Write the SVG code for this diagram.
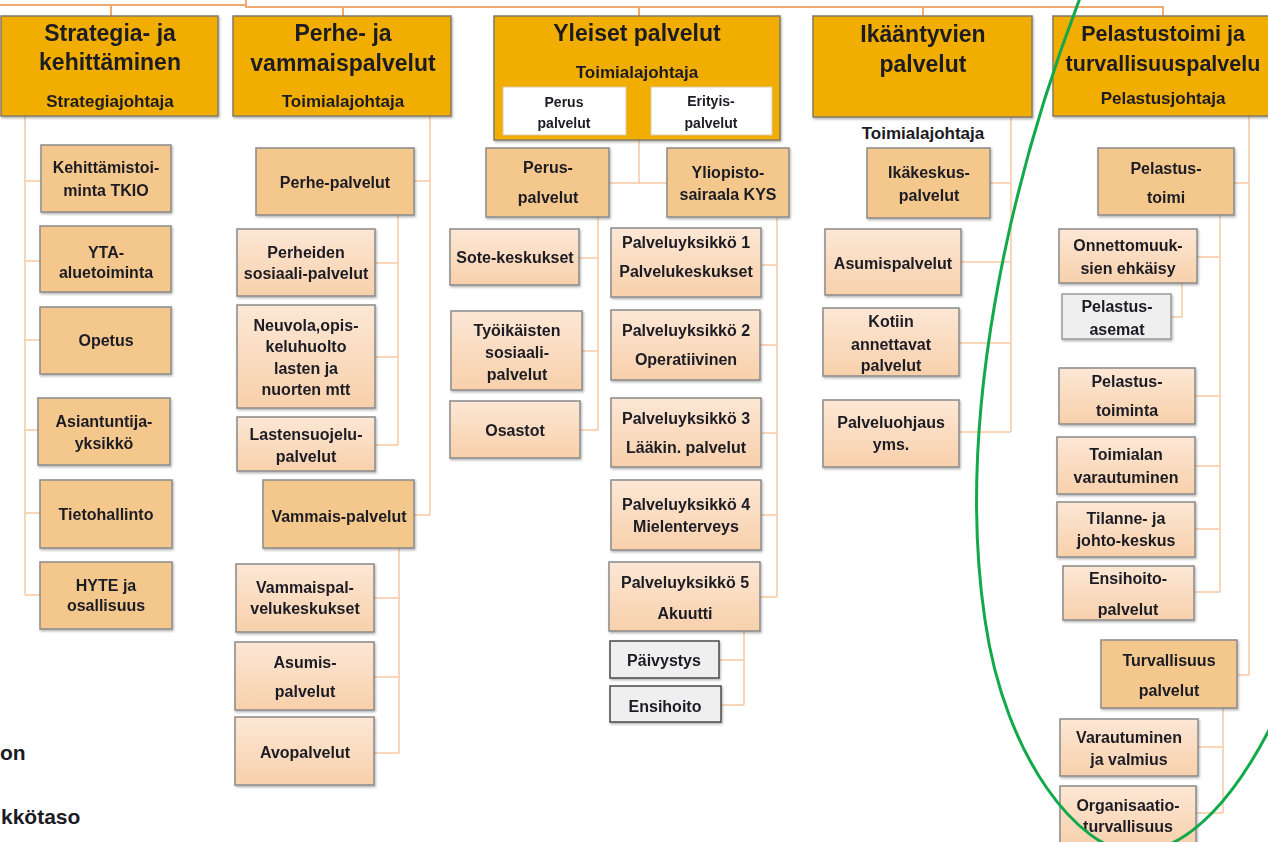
<svg xmlns="http://www.w3.org/2000/svg" width="1268" height="842" viewBox="0 0 1268 842">
<style>
text{font-family:"Liberation Sans",Arial,sans-serif;font-weight:bold;fill:#1b1b24;text-anchor:middle}
.h{font-size:23px}.hs{font-size:21.5px}.s{font-size:17px}.n{font-size:16px}.w{font-size:14px}
.hdr{fill:#F2AE00;stroke:#857a66;stroke-width:1.5}
.dk{fill:#F4C88D;stroke:#8a8a8a;stroke-width:1.5}
.lt{fill:url(#lg);stroke:#8a8a8a;stroke-width:1.5}
.gr{fill:#EFEFEF;stroke:#4a4a4a;stroke-width:1.5}
.wh{fill:#fff;stroke:#d8c9a8;stroke-width:1}
.c path{fill:none;stroke:#F7C9A2;stroke-width:1.5}
.c .top{stroke:#F0AA70;stroke-width:2}
.free{text-anchor:start;font-size:21px}
</style>
<defs>
<linearGradient id="lg" x1="0" y1="0" x2="0" y2="1"><stop offset="0" stop-color="#FCE7D5"/><stop offset="1" stop-color="#F8D0AB"/></linearGradient>
<filter id="sh" x="-5%" y="-5%" width="115%" height="120%"><feDropShadow dx="1" dy="1.5" stdDeviation="1" flood-color="#000" flood-opacity="0.3"/></filter>
</defs>
<rect width="1268" height="842" fill="#fff"/>
<g class="c" id="connectors">
<path class="top" d="M0,5 H245 M246,0 V7 H1163 V16 M111,5 V16 M343,7 V16 M639,7 V16 M923,7 V16"/>
<path d="M25,116 V595 M25,181 H41 M25,261 H40 M25,340 H40 M25,430 H38 M25,513 H40 M25,595 H40"/>
<path d="M430,116 V515 M414,181 H430 M414,515 H430 M398,215 V445 M375,263 H398 M375,357 H398 M375,445 H398 M399,548 V753 M374,598 H399 M374,677 H399 M374,753 H399"/>
<path d="M639,140 V183 M609,183 H667 M598,217 V430 M579,258 H598 M582,351 H598 M580,430 H598 M777,217 V597 M761,265 H777 M760,345 H777 M761,433 H777 M761,515 H777 M760,597 H777 M744,631 V705 M719,660 H744 M721,705 H744"/>
<path d="M1011,117 V432 M990,183 H1011 M961,262 H1011 M959,343 H1011 M959,432 H1011"/>
<path d="M1249,116 V675 M1234,183 H1249 M1237,675 H1249 M1220,215 V592 M1197,257 H1220 M1195,396 H1220 M1195,466 H1220 M1195,529 H1220 M1194,592 H1220 M1182,283 V317 H1171 M1223,708 V813 M1198,747 H1223 M1196,813 H1223"/>
</g>
<g filter="url(#sh)">
<g id="strategia"><rect class="hdr" x="1" y="16" width="217" height="100"/><text class="h" x="110" y="41">Strategia- ja</text><text class="h" x="110" y="70">kehittäminen</text><text class="s" x="110" y="107">Strategiajohtaja</text></g>
<g id="perhe"><rect class="hdr" x="233" y="16" width="218" height="100"/><text class="h" x="343" y="41">Perhe- ja</text><text class="h" x="343" y="71">vammaispalvelut</text><text class="s" x="343" y="107">Toimialajohtaja</text></g>
<g id="yleiset"><rect class="hdr" x="494" y="16" width="286" height="124"/><text class="h" x="637" y="41">Yleiset palvelut</text><text class="s" x="637" y="78">Toimialajohtaja</text></g>
<g id="perus-w"><rect class="wh" x="503" y="87" width="123" height="48"/><text class="w" x="564" y="107">Perus</text><text class="w" x="564" y="128">palvelut</text></g>
<g id="erityis-w"><rect class="wh" x="651" y="87" width="121" height="48"/><text class="w" x="711" y="106">Erityis-</text><text class="w" x="711" y="128">palvelut</text></g>
<g id="ikaantyvien"><rect class="hdr" x="813" y="16" width="219" height="101"/><text class="h" x="923" y="42">Ikääntyvien</text><text class="h" x="923" y="72">palvelut</text></g>
<g id="pelastus"><rect class="hdr" x="1053" y="16" width="220" height="100"/><text class="hs" x="1163" y="41">Pelastustoimi ja</text><text class="hs" x="1163" y="71">turvallisuuspalvelu</text><text class="s" x="1163" y="104">Pelastusjohtaja</text></g>

<g id="tkio"><rect class="dk" x="41" y="145" width="130" height="67"/><text class="n" x="106" y="173">Kehittämistoi-</text><text class="n" x="106" y="196">minta TKIO</text></g>
<g id="yta"><rect class="dk" x="40" y="226" width="131" height="66"/><text class="n" x="106" y="258">YTA-</text><text class="n" x="106" y="278">aluetoiminta</text></g>
<g id="opetus"><rect class="dk" x="40" y="307" width="131" height="67"/><text class="n" x="106" y="346">Opetus</text></g>
<g id="asiantuntija"><rect class="dk" x="38" y="398" width="132" height="67"/><text class="n" x="104" y="427">Asiantuntija-</text><text class="n" x="104" y="449">yksikkö</text></g>
<g id="tietohallinto"><rect class="dk" x="40" y="480" width="132" height="68"/><text class="n" x="106" y="520">Tietohallinto</text></g>
<g id="hyte"><rect class="dk" x="40" y="562" width="132" height="67"/><text class="n" x="106" y="591">HYTE ja</text><text class="n" x="106" y="611">osallisuus</text></g>

<g id="perhepalvelut"><rect class="dk" x="256" y="148" width="158" height="67"/><text class="n" x="335" y="188">Perhe-palvelut</text></g>
<g id="perheiden"><rect class="lt" x="237" y="229" width="138" height="67"/><text class="n" x="306" y="258">Perheiden</text><text class="n" x="306" y="279">sosiaali-palvelut</text></g>
<g id="neuvola"><rect class="lt" x="237" y="305" width="138" height="103"/><text class="n" x="306" y="331">Neuvola,opis-</text><text class="n" x="306" y="352">keluhuolto</text><text class="n" x="306" y="374">lasten ja</text><text class="n" x="306" y="395">nuorten mtt</text></g>
<g id="lastensuojelu"><rect class="lt" x="237" y="417" width="138" height="54"/><text class="n" x="306" y="440">Lastensuojelu-</text><text class="n" x="306" y="462">palvelut</text></g>
<g id="vammaispalvelut"><rect class="dk" x="263" y="480" width="151" height="68"/><text class="n" x="339" y="522">Vammais-palvelut</text></g>
<g id="vammaispalkeskukset"><rect class="lt" x="236" y="564" width="138" height="68"/><text class="n" x="305" y="593">Vammaispal-</text><text class="n" x="305" y="614">velukeskukset</text></g>
<g id="asumis"><rect class="lt" x="235" y="642" width="139" height="68"/><text class="n" x="305" y="668">Asumis-</text><text class="n" x="305" y="697">palvelut</text></g>
<g id="avopalvelut"><rect class="lt" x="235" y="717" width="139" height="68"/><text class="n" x="305" y="758">Avopalvelut</text></g>

<g id="peruspalvelut"><rect class="dk" x="486" y="148" width="123" height="69"/><text class="n" x="548" y="173">Perus-</text><text class="n" x="548" y="203">palvelut</text></g>
<g id="kys"><rect class="dk" x="667" y="148" width="122" height="69"/><text class="n" x="728" y="178">Yliopisto-</text><text class="n" x="728" y="200">sairaala KYS</text></g>
<g id="sote"><rect class="lt" x="450" y="229" width="129" height="56"/><text class="n" x="515" y="263">Sote-keskukset</text></g>
<g id="tyoikaisten"><rect class="lt" x="451" y="311" width="131" height="79"/><text class="n" x="517" y="336">Työikäisten</text><text class="n" x="517" y="358">sosiaali-</text><text class="n" x="517" y="380">palvelut</text></g>
<g id="osastot"><rect class="lt" x="450" y="401" width="130" height="57"/><text class="n" x="515" y="436">Osastot</text></g>
<g id="py1"><rect class="lt" x="611" y="228" width="150" height="69"/><text class="n" x="686" y="248">Palveluyksikkö 1</text><text class="n" x="686" y="277">Palvelukeskukset</text></g>
<g id="py2"><rect class="lt" x="611" y="310" width="149" height="70"/><text class="n" x="686" y="336">Palveluyksikkö 2</text><text class="n" x="686" y="365">Operatiivinen</text></g>
<g id="py3"><rect class="lt" x="611" y="398" width="150" height="69"/><text class="n" x="686" y="424">Palveluyksikkö 3</text><text class="n" x="686" y="453">Lääkin. palvelut</text></g>
<g id="py4"><rect class="lt" x="611" y="480" width="150" height="70"/><text class="n" x="686" y="510">Palveluyksikkö 4</text><text class="n" x="686" y="532">Mielenterveys</text></g>
<g id="py5"><rect class="lt" x="609" y="562" width="151" height="69"/><text class="n" x="685" y="588">Palveluyksikkö 5</text><text class="n" x="685" y="619">Akuutti</text></g>
<g id="paivystys"><rect class="gr" x="610" y="641" width="109" height="37"/><text class="n" x="664" y="666">Päivystys</text></g>
<g id="ensihoito"><rect class="gr" x="610" y="686" width="111" height="36"/><text class="n" x="665" y="712">Ensihoito</text></g>

<g id="ikakeskus"><rect class="dk" x="867" y="148" width="123" height="70"/><text class="n" x="929" y="178">Ikäkeskus-</text><text class="n" x="929" y="201">palvelut</text></g>
<g id="asumispalvelut"><rect class="lt" x="825" y="229" width="136" height="66"/><text class="n" x="893" y="269">Asumispalvelut</text></g>
<g id="kotiin"><rect class="lt" x="823" y="308" width="136" height="68"/><text class="n" x="891" y="327">Kotiin</text><text class="n" x="891" y="350">annettavat</text><text class="n" x="891" y="371">palvelut</text></g>
<g id="palveluohjaus"><rect class="lt" x="823" y="400" width="136" height="67"/><text class="n" x="891" y="428">Palveluohjaus</text><text class="n" x="891" y="450">yms.</text></g>

<g id="pelastustoimi"><rect class="dk" x="1098" y="148" width="136" height="67"/><text class="n" x="1166" y="174">Pelastus-</text><text class="n" x="1166" y="203">toimi</text></g>
<g id="onnettomuuksien"><rect class="lt" x="1059" y="229" width="138" height="54"/><text class="n" x="1128" y="251">Onnettomuuk-</text><text class="n" x="1128" y="274">sien ehkäisy</text></g>
<g id="pelastusasemat"><rect class="gr" x="1062" y="294" width="109" height="45" style="stroke:#9a9a9a"/><text class="n" x="1117" y="312">Pelastus-</text><text class="n" x="1117" y="335">asemat</text></g>
<g id="pelastustoiminta"><rect class="lt" x="1059" y="368" width="136" height="56"/><text class="n" x="1127" y="387">Pelastus-</text><text class="n" x="1127" y="416">toiminta</text></g>
<g id="varautuminen-t"><rect class="lt" x="1057" y="437" width="138" height="57"/><text class="n" x="1126" y="460">Toimialan</text><text class="n" x="1126" y="483">varautuminen</text></g>
<g id="tilanne"><rect class="lt" x="1057" y="502" width="138" height="55"/><text class="n" x="1126" y="524">Tilanne- ja</text><text class="n" x="1126" y="546">johto-keskus</text></g>
<g id="ensihoitopalvelut"><rect class="lt" x="1063" y="566" width="131" height="54"/><text class="n" x="1128" y="584">Ensihoito-</text><text class="n" x="1128" y="615">palvelut</text></g>
<g id="turvallisuus"><rect class="dk" x="1101" y="640" width="136" height="68"/><text class="n" x="1169" y="666">Turvallisuus</text><text class="n" x="1169" y="696">palvelut</text></g>
<g id="varautuminen"><rect class="lt" x="1060" y="719" width="138" height="57"/><text class="n" x="1129" y="743">Varautuminen</text><text class="n" x="1129" y="765">ja valmius</text></g>
<g id="organisaatio"><rect class="lt" x="1060" y="786" width="136" height="62"/><text class="n" x="1128" y="811">Organisaatio-</text><text class="n" x="1128" y="832">turvallisuus</text></g>
</g>
<text class="s" x="923" y="139">Toimialajohtaja</text>
<text class="free" x="0" y="760">on</text>
<text class="free" x="1" y="824">kkötaso</text>
<path d="M1080,-2 C1010,180 955,420 985,620 C1005,760 1080,850 1133,852 C1190,854 1240,790 1275,718" fill="none" stroke="#12A94B" stroke-width="3"/>
</svg>
